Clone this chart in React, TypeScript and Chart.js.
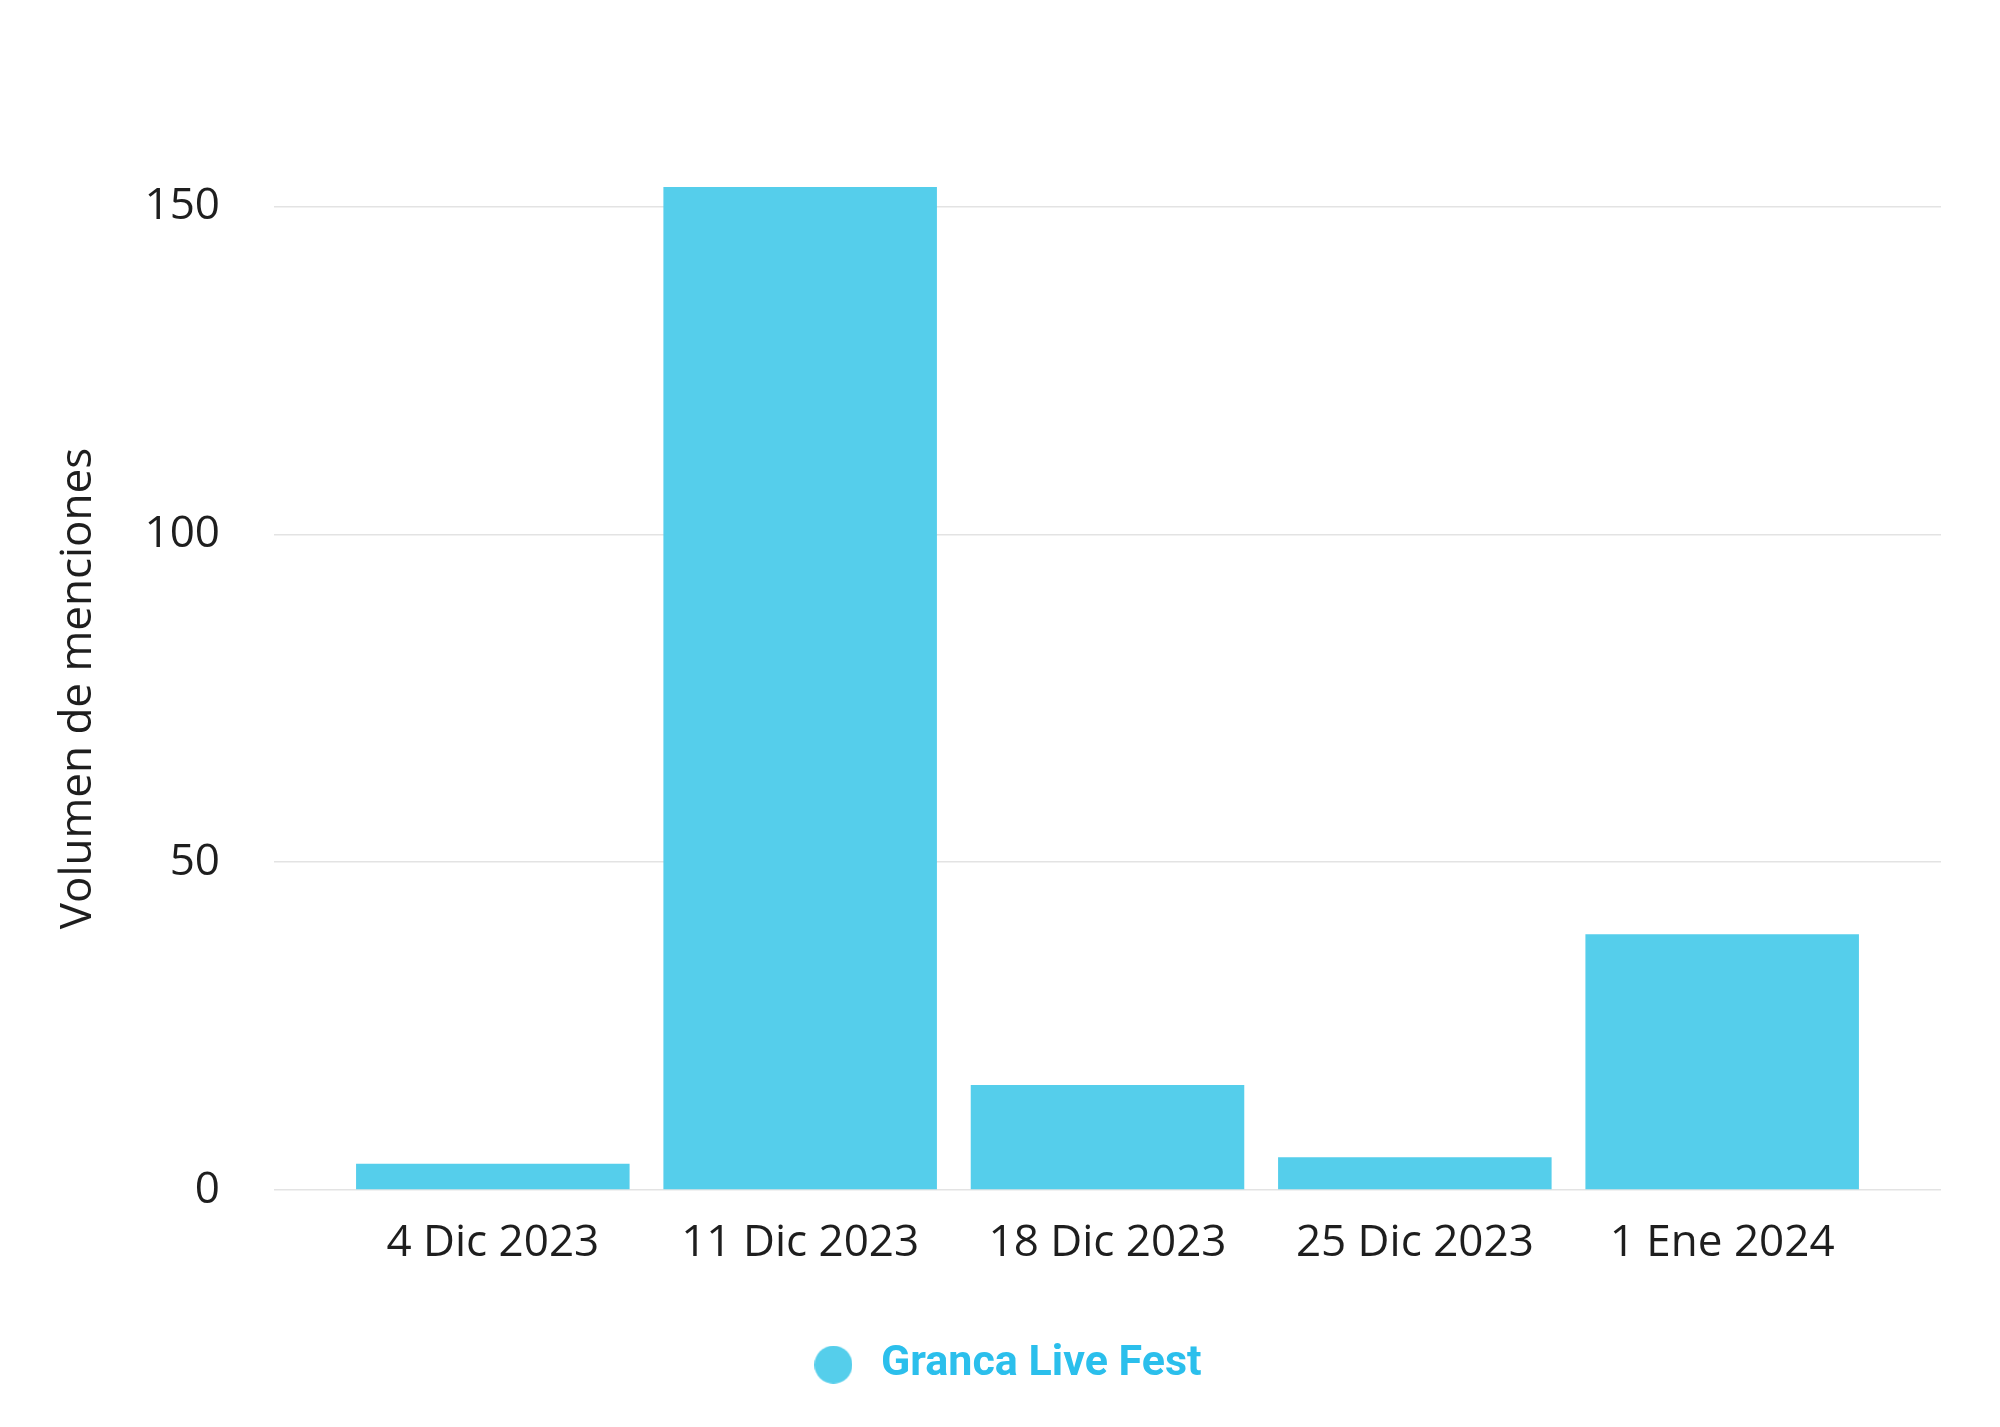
import React, { useEffect, useRef } from "react";
import { Chart, registerables } from "chart.js";

Chart.register(...registerables);

const categories = ["4 Dic 2023", "11 Dic 2023", "18 Dic 2023", "25 Dic 2023", "1 Ene 2024"];
const seriesName = "Granca Live Fest";
const mentions = [4, 153, 16, 5, 39];
const yTickValues = [0, 50, 100, 150];
const yTitle = "Volumen de menciones";

const BAR_COLOR = "#55CEEB";
const LEGEND_TEXT = "#2BBFEC";
const TEXT_COLOR = "#1E1E1E";
const GRID_COLOR = "#E3E3E3";
const X_PAD = 0.712;
const LEGEND_SHIFT = 8;

export default function App() {
  const ref = useRef<HTMLCanvasElement>(null);

  useEffect(() => {
    const canvas = ref.current;
    if (!canvas) return;

    const dot = document.createElement("canvas");
    dot.width = 38;
    dot.height = 38;
    const dctx = dot.getContext("2d");
    if (dctx) {
      dctx.fillStyle = BAR_COLOR;
      dctx.beginPath();
      dctx.arc(19, 19, 19, 0, Math.PI * 2);
      dctx.fill();
    }

    const tickFont = { family: "'Open Sans', sans-serif", size: 44 };

    const legendShift = {
      id: "legendShift",
      afterLayout(c: any) {
        const l = c.legend;
        if (l) {
          l.left += LEGEND_SHIFT;
          l.right += LEGEND_SHIFT;
        }
      },
    };

    const chart = new Chart(canvas, {
      type: "bar",
      data: {
        datasets: [
          {
            label: seriesName,
            data: mentions.map((v, i) => ({ x: i, y: v })),
            backgroundColor: BAR_COLOR,
            borderWidth: 0,
            categoryPercentage: 1,
            barPercentage: 0.89,
          },
        ],
      },
      plugins: [legendShift],
      options: {
        responsive: false,
        animation: false,
        devicePixelRatio: 1,
        layout: { padding: { left: 52, right: 59, top: 187, bottom: 30.8 } },
        plugins: {
          tooltip: { enabled: false },
          legend: {
            display: true,
            position: "bottom",
            align: "center",
            labels: {
              usePointStyle: true,
              pointStyle: dot as any,
              pointStyleWidth: 52,
              boxHeight: 38,
              padding: 73.2,
              color: LEGEND_TEXT,
              font: { family: "Roboto, sans-serif", size: 43, weight: "bold" },
            },
          },
        },
        scales: {
          x: {
            type: "linear",
            offset: false,
            min: -X_PAD,
            max: categories.length - 1 + X_PAD,
            afterBuildTicks: (s: any) => {
              s.ticks = categories.map((_, i) => ({ value: i }));
            },
            afterFit: (s: any) => {
              s.height = 80;
            },
            ticks: {
              callback: (v: any) => categories[v as number] ?? "",
              padding: 27,
              autoSkip: false,
              maxRotation: 0,
              color: TEXT_COLOR,
              font: tickFont,
            },
            grid: { display: false, drawTicks: false },
            border: { display: false },
          },
          y: {
            type: "linear",
            min: 0,
            max: Math.max(...mentions),
            afterBuildTicks: (s: any) => {
              s.ticks = yTickValues.map((v) => ({ value: v }));
            },
            afterFit: (s: any) => {
              s.width = 222;
            },
            ticks: { padding: 54, color: TEXT_COLOR, font: tickFont },
            grid: { color: GRID_COLOR, lineWidth: 1.5, drawTicks: false },
            border: { display: false },
            title: {
              display: true,
              text: yTitle,
              color: TEXT_COLOR,
              font: { family: "'Open Sans', sans-serif", size: 44 },
              padding: { top: 0, bottom: 40 },
            },
          },
        },
      } as any,
    });

    return () => chart.destroy();
  }, []);

  return (
    <div style={{ position: "fixed", left: 0, top: 0, width: 2000, height: 1427, background: "#ffffff" }}>
      <canvas ref={ref} width={2000} height={1427} style={{ width: 2000, height: 1427, display: "block" }} />
    </div>
  );
}
